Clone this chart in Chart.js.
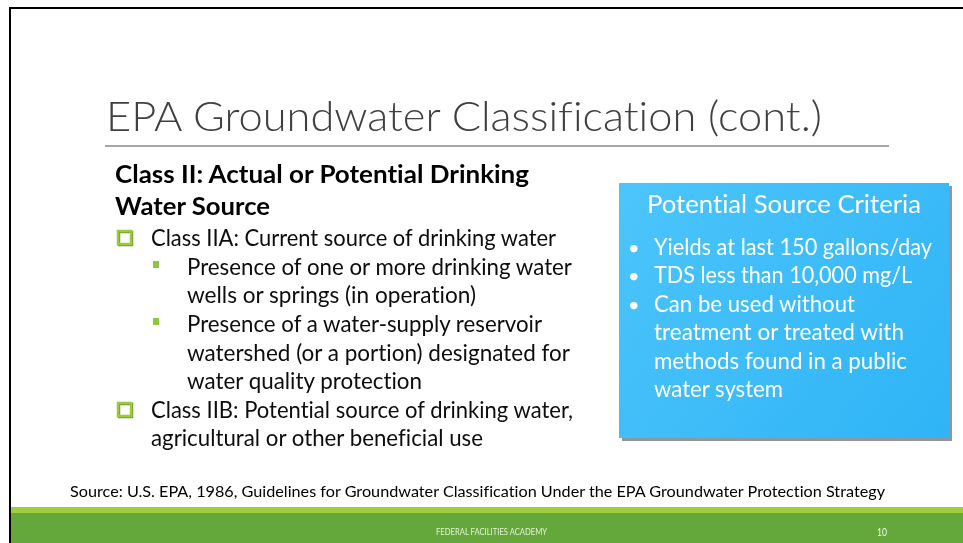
<!DOCTYPE html>
<html>
<head>
<meta charset="utf-8">
<script src="https://cdn.jsdelivr.net/npm/chart.js"></script>
<style>
  html, body { margin: 0; padding: 0; background: #fff; }
  #slide { position: relative; width: 963px; height: 543px; overflow: hidden; }
  #bg { position: absolute; left: 0; top: 0; }
  .t { position: absolute; white-space: nowrap; transform-origin: 0 0; }
  .t i { display: inline-block; width: 0; height: 0; vertical-align: baseline; }
</style>
</head>
<body>
<div id="slide"><canvas id="bg" width="963" height="543"></canvas></div>
<script>
// Texte de la diapo
const titleText = "EPA Groundwater Classification (cont.)";
const headingLines = ["Class II: Actual or Potential Drinking", "Water Source"];
const headingBase = [183, 215];
const headingWidths = [414, 155];

// [texte, niveau, puce?]
const leftLines = [
  ["Class IIA: Current source of drinking water", 1, true],
  ["Presence of one or more drinking water", 2, true],
  ["wells or springs (in operation)", 2, false],
  ["Presence of a water-supply reservoir", 2, true],
  ["watershed (or a portion) designated for", 2, false],
  ["water quality protection", 2, false],
  ["Class IIB: Potential source of drinking water,", 1, true],
  ["agricultural or other beneficial use", 1, false]
];
const leftBase = [246, 275, 303, 332, 361, 389, 418, 446];
const leftWidths = [405, 385, 289, 355, 383, 235, 422, 332];

const boxTitle = "Potential Source Criteria";
const criteria = [
  ["Yields at last 150 gallons/day", true],
  ["TDS less than 10,000 mg/L", true],
  ["Can be used without", true],
  ["treatment or treated with", false],
  ["methods found in a public", false],
  ["water system", false]
];
const criteriaBase = [255, 283, 312, 340, 369, 397];
const criteriaWidths = [278, 258, 201, 250, 253, 129];

const sourceText = "Source: U.S. EPA, 1986, Guidelines for Groundwater Classification Under the EPA Groundwater Protection Strategy";
const footerText = "FEDERAL FACILITIES ACADEMY";
const pageNumber = "10";

const FONT = "Lato, 'Open Sans', sans-serif";
const slide = document.getElementById("slide");

// pose un texte sur sa ligne de base, compressé à la largeur voulue
function place(text, x, base, w, font, color){
  const d = document.createElement("div");
  d.className = "t";
  d.style.font = font;
  // le raccourci font remet les ligatures : on les coupe après
  d.style.fontVariantLigatures = "none";
  d.style.fontFeatureSettings = '"liga" 0, "clig" 0, "dlig" 0, "calt" 0';
  d.style.color = color;
  d.style.left = x + "px";
  d.style.top = "0px";
  d.appendChild(document.createTextNode(text));
  const m = document.createElement("i");
  d.appendChild(m);
  slide.appendChild(d);
  const box = d.getBoundingClientRect();
  const off = m.getBoundingClientRect().top - box.top;
  d.style.top = (base - off) + "px";
  if (w) d.style.transform = `scaleX(${w / box.width})`;
  return d;
}

const slideBg = {
  id: "slideBg",
  beforeDraw(chart){
    const c = chart.ctx;
    c.save();
    c.fillStyle = "#fff";
    c.fillRect(0, 0, 963, 543);

    // cadre noir
    c.fillStyle = "#000";
    c.fillRect(9, 7, 954, 2);
    c.fillRect(9, 7, 2, 536);

    // filet sous le titre
    c.fillStyle = "#a6a6a6";
    c.fillRect(105, 145, 784, 2);

    // encadré bleu
    c.fillStyle = "rgba(70,80,90,0.6)";
    c.fillRect(622, 186, 330, 255);
    const g = c.createLinearGradient(619, 183, 949, 438);
    g.addColorStop(0, "#4cc5fb");
    g.addColorStop(1, "#2fb4f6");
    c.fillStyle = g;
    c.fillRect(619, 183, 330, 255);

    // puces
    leftLines.forEach((l, i) => {
      if (!l[2]) return;
      const b = leftBase[i];
      if (l[1] === 1) {
        c.lineWidth = 2.5;
        c.strokeStyle = "#6f9f2c";
        c.strokeRect(119, b - 14, 13, 13);
        c.strokeStyle = "#9bcb3c";
        c.strokeRect(118, b - 15, 13, 13);
      } else {
        c.fillStyle = "#8dc63f";
        c.fillRect(153, b - 14, 6, 7);
      }
    });

    // pied de page
    c.fillStyle = "#9fce3a";
    c.fillRect(11, 507, 952, 6);
    c.fillStyle = "#64a73b";
    c.fillRect(11, 513, 952, 30);
    c.restore();
  }
};

new Chart(document.getElementById("bg"), {
  type: "bar",
  data: { labels: [], datasets: [] },
  options: {
    responsive: false,
    animation: false,
    events: [],
    plugins: { legend: { display: false }, tooltip: { enabled: false } },
    scales: { x: { display: false }, y: { display: false } }
  },
  plugins: [slideBg]
});

place(titleText, 106, 131, 716, `300 42px/1 ${FONT}`, "#404040");

headingLines.forEach((t, i) => {
  place(t, 115, headingBase[i], headingWidths[i], `bold 25px/1 ${FONT}`, "#000");
});

leftLines.forEach((l, i) => {
  const x = l[1] === 1 ? 151 : 187;
  place(l[0], x, leftBase[i], leftWidths[i], `24px/1 ${FONT}`, "#0d0d0d");
});

place(boxTitle, 647, 213, 274, `25px/1 ${FONT}`, "#fff");
criteria.forEach((l, i) => {
  if (l[1]) place("\u2022", 628, criteriaBase[i], 0, `20px/1 ${FONT}`, "#fff");
  place(l[0], 654, criteriaBase[i], criteriaWidths[i], `23px/1 ${FONT}`, "#fff");
});

place(sourceText, 70, 497, 815, `15px/1 ${FONT}`, "#000");
place(footerText, 436, 535, 111, `9px/1 ${FONT}`, "#e6f1da");
place(pageNumber, 877, 536, 10, `11px/1 ${FONT}`, "#f2f8ec");
</script>
</body>
</html>
